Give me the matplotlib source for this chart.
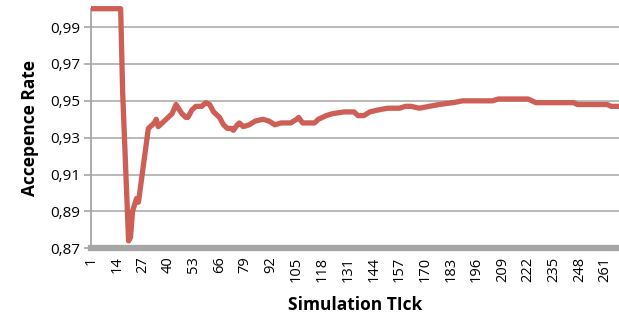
#!/usr/bin/env python3
"""Acceptance rate over simulation ticks, Excel-like line chart."""
import matplotlib as mpl
mpl.use("Agg")
import matplotlib.pyplot as plt
from matplotlib.ticker import FuncFormatter

# simulation tick (category index) and acceptance rate
TICKS = [1, 16, 17, 20, 21, 22, 24, 25, 27, 29, 30, 33, 34, 35, 38, 40, 42,
         44, 47, 49, 50, 52, 54, 57, 59, 61, 63, 66, 68, 70, 72, 73, 75, 76,
         78, 81, 84, 88, 91, 94, 97, 102, 105, 106, 108, 111, 114, 116, 120,
         123, 129, 134, 136, 139, 142, 146, 151, 157, 160, 163, 167, 172,
         177, 184, 189, 204, 207, 222, 226, 245, 247, 262, 264, 268]
RATE = [1.000, 1.000, 0.955, 0.874, 0.876, 0.890, 0.897, 0.895, 0.911, 0.927,
        0.935, 0.938, 0.940, 0.936, 0.939, 0.941, 0.943, 0.948, 0.943, 0.941,
        0.941, 0.945, 0.947, 0.947, 0.949, 0.948, 0.944, 0.941, 0.937, 0.935,
        0.935, 0.934, 0.937, 0.938, 0.936, 0.937, 0.939, 0.940, 0.939, 0.937,
        0.938, 0.938, 0.940, 0.941, 0.938, 0.938, 0.938, 0.940, 0.942, 0.943,
        0.944, 0.944, 0.942, 0.942, 0.944, 0.945, 0.946, 0.946, 0.947, 0.947,
        0.946, 0.947, 0.948, 0.949, 0.950, 0.950, 0.951, 0.951, 0.949, 0.949,
        0.948, 0.948, 0.947, 0.947]

XLABELS = [1, 14, 27, 40, 53, 66, 79, 92, 105, 118, 131, 144, 157, 170, 183,
           196, 209, 222, 235, 248, 261]
YTICKS = [0.87, 0.89, 0.91, 0.93, 0.95, 0.97, 0.99]
TICK_MARKS = [24, 94, 165, 235]

LINE = "#CD5F57"
GRID = "#B3B3B3"
AXIS = "#A6A6A6"

plt.rcParams["font.family"] = ["Open Sans", "DejaVu Sans"]

fig = plt.figure(figsize=(6.19, 3.22), dpi=100)
ax = fig.add_axes([0.147, 0.229, 0.853, 0.744])

ax.plot(TICKS, RATE, color=LINE, lw=3.8, solid_joinstyle="round",
        solid_capstyle="butt", clip_on=False, zorder=3)

ax.set_xlim(1, 268)
ax.set_ylim(0.87, 1.0)
ax.set_yticks(YTICKS)
ax.yaxis.set_major_formatter(FuncFormatter(lambda v, _: f"{v:.2f}".replace(".", ",")))
ax.grid(axis="y", color=GRID, lw=1.3)
ax.set_axisbelow(True)

ax.set_xticks(XLABELS)
ax.set_xticklabels([str(v) for v in XLABELS], rotation=90, fontsize=10.5)
ax.tick_params(axis="x", length=0, pad=6)
ax.set_xticks(TICK_MARKS, minor=True)
ax.tick_params(axis="x", which="minor", direction="inout", length=7,
               width=1.2, color="white")
ax.tick_params(axis="y", length=5, width=1.2, color=AXIS, labelsize=11,
               pad=3)

for s in ("top", "right"):
    ax.spines[s].set_visible(False)
ax.spines["left"].set_color(AXIS)
ax.spines["left"].set_linewidth(1.3)
ax.spines["bottom"].set_color(AXIS)
ax.spines["bottom"].set_linewidth(4.5)
ax.spines["bottom"].set_zorder(4)

ax.set_ylabel("Accepence Rate", fontsize=12.5, fontweight="bold", labelpad=8)
ax.set_xlabel("Simulation TIck", fontsize=12.5, fontweight="bold", labelpad=10)

fig.savefig("out.png", dpi=100)
